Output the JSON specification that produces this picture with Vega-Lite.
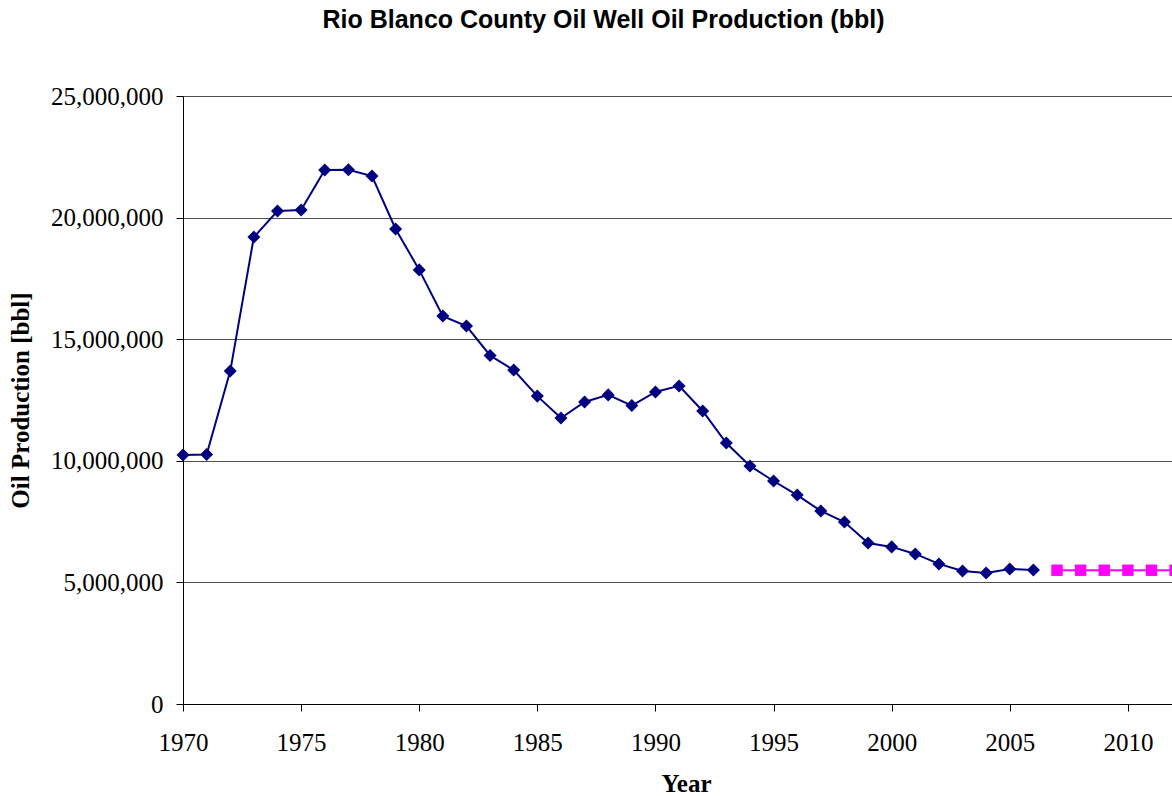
{
  "$schema": "https://vega.github.io/schema/vega-lite/v6.json",
  "autosize": "none",
  "padding": {"left": 183, "top": 96, "right": 0, "bottom": 92},
  "width": 1063,
  "height": 608,
  "background": "white",
  "title": {
    "text": "Rio Blanco County Oil Well Oil Production (bbl)",
    "font": "Liberation Sans",
    "fontSize": 25,
    "fontWeight": "bold",
    "color": "black",
    "anchor": "middle",
    "frame": "group",
    "baseline": "alphabetic",
    "dx": -111,
    "offset": 31
  },
  "config": {
    "view": {"stroke": null},
    "axis": {
      "labelFont": "Liberation Serif",
      "labelFontSize": 25,
      "labelColor": "black",
      "titleFont": "Liberation Serif",
      "titleFontSize": 25,
      "titleFontWeight": "bold",
      "titleColor": "black",
      "domainColor": "black",
      "tickColor": "black",
      "tickSize": 7
    }
  },
  "data": {
    "values": [
      {"year": 1970, "production": 10240000, "series": "Actual"},
      {"year": 1971, "production": 10260000, "series": "Actual"},
      {"year": 1972, "production": 13690000, "series": "Actual"},
      {"year": 1973, "production": 19200000, "series": "Actual"},
      {"year": 1974, "production": 20270000, "series": "Actual"},
      {"year": 1975, "production": 20310000, "series": "Actual"},
      {"year": 1976, "production": 21960000, "series": "Actual"},
      {"year": 1977, "production": 21970000, "series": "Actual"},
      {"year": 1978, "production": 21710000, "series": "Actual"},
      {"year": 1979, "production": 19530000, "series": "Actual"},
      {"year": 1980, "production": 17850000, "series": "Actual"},
      {"year": 1981, "production": 15950000, "series": "Actual"},
      {"year": 1982, "production": 15540000, "series": "Actual"},
      {"year": 1983, "production": 14330000, "series": "Actual"},
      {"year": 1984, "production": 13730000, "series": "Actual"},
      {"year": 1985, "production": 12660000, "series": "Actual"},
      {"year": 1986, "production": 11760000, "series": "Actual"},
      {"year": 1987, "production": 12420000, "series": "Actual"},
      {"year": 1988, "production": 12710000, "series": "Actual"},
      {"year": 1989, "production": 12270000, "series": "Actual"},
      {"year": 1990, "production": 12830000, "series": "Actual"},
      {"year": 1991, "production": 13080000, "series": "Actual"},
      {"year": 1992, "production": 12050000, "series": "Actual"},
      {"year": 1993, "production": 10730000, "series": "Actual"},
      {"year": 1994, "production": 9790000, "series": "Actual"},
      {"year": 1995, "production": 9170000, "series": "Actual"},
      {"year": 1996, "production": 8590000, "series": "Actual"},
      {"year": 1997, "production": 7940000, "series": "Actual"},
      {"year": 1998, "production": 7480000, "series": "Actual"},
      {"year": 1999, "production": 6620000, "series": "Actual"},
      {"year": 2000, "production": 6460000, "series": "Actual"},
      {"year": 2001, "production": 6170000, "series": "Actual"},
      {"year": 2002, "production": 5760000, "series": "Actual"},
      {"year": 2003, "production": 5470000, "series": "Actual"},
      {"year": 2004, "production": 5390000, "series": "Actual"},
      {"year": 2005, "production": 5550000, "series": "Actual"},
      {"year": 2006, "production": 5510000, "series": "Actual"},
      {"year": 2007, "production": 5500000, "series": "Projected"},
      {"year": 2008, "production": 5500000, "series": "Projected"},
      {"year": 2009, "production": 5500000, "series": "Projected"},
      {"year": 2010, "production": 5500000, "series": "Projected"},
      {"year": 2011, "production": 5500000, "series": "Projected"},
      {"year": 2012, "production": 5500000, "series": "Projected"}
    ]
  },
  "encoding": {
    "x": {
      "field": "year",
      "type": "quantitative",
      "scale": {"domain": [1970, 2015], "nice": false, "zero": false},
      "axis": {
        "title": "Year",
        "values": [1970, 1975, 1980, 1985, 1990, 1995, 2000, 2005, 2010],
        "format": "d",
        "grid": false,
        "labelPadding": 19,
        "labelFlush": false,
        "labelOverlap": false,
        "titleX": 503,
        "titleY": 79,
        "titleBaseline": "middle",
        "titleAnchor": null
      }
    },
    "y": {
      "field": "production",
      "type": "quantitative",
      "scale": {"domain": [0, 25000000], "nice": false},
      "axis": {
        "title": "Oil Production [bbl]",
        "values": [0, 5000000, 10000000, 15000000, 20000000, 25000000],
        "format": ",d",
        "grid": true,
        "gridColor": "#505050",
        "gridWidth": 1,
        "labelPadding": 13,
        "titleX": -163,
        "titleY": 304,
        "titleAngle": -90,
        "titleAlign": "center",
        "titleBaseline": "middle"
      }
    },
    "color": {
      "field": "series",
      "type": "nominal",
      "scale": {"domain": ["Actual", "Projected"], "range": ["#000080", "#FF00FF"]},
      "legend": null
    }
  },
  "layer": [
    {"mark": {"type": "line", "strokeWidth": 2, "clip": false}},
    {
      "mark": {"type": "point", "filled": true, "opacity": 1, "clip": false},
      "encoding": {
        "shape": {
          "field": "series",
          "type": "nominal",
          "scale": {"domain": ["Actual", "Projected"], "range": ["diamond", "square"]},
          "legend": null
        },
        "size": {
          "field": "series",
          "type": "nominal",
          "scale": {"domain": ["Actual", "Projected"], "range": [170, 130]},
          "legend": null
        }
      }
    }
  ]
}
